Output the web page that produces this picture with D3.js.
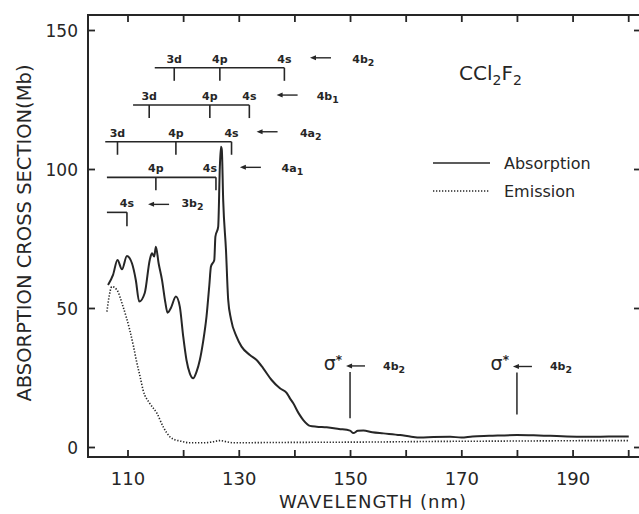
<!DOCTYPE html>
<html>
<head>
<meta charset="utf-8">
<script src="https://cdn.jsdelivr.net/npm/d3@7"></script>
<style>
body { margin: 0; background: #fff; }
svg text { font-family: "DejaVu Sans", sans-serif; fill: #262626; }
</style>
</head>
<body>
<div id="vis"></div>
<script>
// absorption cross section (nm / Mb)
var absWave = [106.5,107.4,108.2,109.0,109.9,110.8,111.5,112.1,113.1,114.0,114.4,114.8,115.1,115.6,116.2,116.8,117.2,117.8,118.7,119.4,120.0,120.6,121.2,121.8,122.4,123.0,123.6,124.2,124.7,125.0,125.6,125.8,126.3,126.6,126.8,126.95,127.2,127.7,128.1,128.6,129.6,130.5,132.0,133.2,134.4,135.9,137.4,138.6,139.2,139.8,140.8,141.6,142.8,144.0,145.8,148.0,150.0,150.6,151.4,152.4,154.0,156.0,159.0,161.0,162.6,165.0,168.0,170.0,172.0,175.0,180.0,183.0,186.0,189.0,192.0,195.0,198.0,200.1];
var absValue = [58.3,61.9,67.3,63.9,68.7,66.1,60.0,52.3,55.4,67.3,69.7,68.5,72.0,66.0,60.1,52.0,48.3,50.0,54.1,50.5,40.0,31.3,26.5,24.7,27.0,31.3,38.0,46.9,58.0,64.9,67.3,75.7,79.2,100.8,108.0,107.0,88.8,70.9,52.9,46.0,39.7,36.1,33.1,31.3,28.3,24.1,21.1,19.5,17.5,15.7,12.0,9.7,7.6,7.3,7.1,6.5,5.9,5.0,5.8,5.9,5.3,4.9,4.3,3.7,3.4,3.6,3.7,3.4,3.8,4.0,4.3,4.2,4.0,3.8,3.7,3.7,3.8,3.8];

// emission (dotted)
var emiWave = [106.3,106.6,107.2,108.1,109.2,110.4,111.1,111.7,112.3,112.8,114.0,115.3,116.4,117.6,118.5,119.4,121.2,123.6,125.2,126.6,128.0,129.0,135.0,145.0,155.0,165.0,175.0,185.0,195.0,200.0];
var emiValue = [48.7,53.0,57.7,56.5,50.5,42.1,36.0,30.1,25.0,20.5,15.7,12.1,7.3,3.7,2.6,2.2,1.5,1.5,1.8,2.3,1.8,1.5,1.6,1.7,1.8,2.0,2.1,2.2,2.3,2.3];

var xTicks = [110,120,130,140,150,160,170,180,190,200];
var xTickLabels = [110,130,150,170,190];
var yTicks = [0,50,100,150];

// Rydberg series assignments (ionized orbital, level, start of bar, members)
var seriesOrbital = ["4b2","4b1","4a2","4a1","3b2"];
var seriesLevel = [136.4,123.0,109.8,97.0,84.4];
var seriesStart = [114.9,111.0,106.0,106.3,106.3];
var seriesMembers = [
	[["3d",118.4],["4p",126.6],["4s",138.2]],
	[["3d",113.9],["4p",124.8],["4s",131.9]],
	[["3d",108.2],["4p",118.7],["4s",128.7]],
	[["4p",115.1],["4s",125.9]],
	[["4s",109.9]]
];
var seriesArrow = [142.8,136.8,133.2,130.2,113.7];
var seriesTag = [150.4,144.0,141.0,137.7,119.7];

// sigma* bands
var sigmaWave = [150,180];
var sigmaTop = [27.0,26.8];
var sigmaBottom = [10.3,11.7];

var W = 639, H = 514;
var margin = {top: 15, left: 88, bottom: 57, right: -2};

var svg = d3.select("#vis").append("svg")
	.attr("width", W)
	.attr("height", H);

var x = d3.scaleLinear().domain([102.9, 202.3]).range([margin.left, W - margin.right]);
var y = d3.scaleLinear().domain([-3.6, 155.4]).range([H - margin.bottom, margin.top]);

var ink = "#262626";

// frame
svg.append("rect")
	.attr("x", margin.left)
	.attr("y", margin.top)
	.attr("width", W - margin.right - margin.left)
	.attr("height", H - margin.bottom - margin.top)
	.attr("fill", "none")
	.attr("stroke", ink)
	.attr("stroke-width", 2);

// axes, ticks pointing in
svg.append("g")
	.attr("transform", "translate(0," + (H - margin.bottom) + ")")
	.call(d3.axisBottom(x).tickValues(xTicks).tickSize(-7).tickPadding(15)
		.tickFormat(d => xTickLabels.indexOf(d) >= 0 ? d : ""));
svg.append("g")
	.attr("transform", "translate(0," + margin.top + ")")
	.call(d3.axisTop(x).tickValues(xTicks).tickSize(-7).tickFormat(""));
var left = svg.append("g")
	.attr("transform", "translate(" + margin.left + ",0)")
	.call(d3.axisLeft(y).tickValues(yTicks).tickSize(-7).tickPadding(10));
svg.append("g")
	.attr("transform", "translate(" + (W - margin.right) + ",0)")
	.call(d3.axisRight(y).tickValues(yTicks).tickSize(-7).tickFormat(""));

svg.selectAll(".domain").remove();
svg.selectAll(".tick line").attr("stroke", ink).attr("stroke-width", 1.8);
svg.selectAll(".tick text").style("font-size", "18px").attr("fill", ink);
left.selectAll(".tick text").style("font-size", "17px").attr("dy", "0.4em");

// axis titles
svg.append("text")
	.attr("transform", "translate(31,233) rotate(-90)")
	.attr("text-anchor", "middle")
	.style("font-size", "19.5px")
	.text("ABSORPTION CROSS SECTION(Mb)");

svg.append("text")
	.attr("x", 373)
	.attr("y", 508)
	.attr("text-anchor", "middle")
	.style("font-size", "18px")
	.style("letter-spacing", "1px")
	.text("WAVELENGTH (nm)");

// spectra
var absData = absWave.map((d, i) => [d, absValue[i]]);
var emiData = emiWave.map((d, i) => [d, emiValue[i]]);
var line = d3.line().x(d => x(d[0])).y(d => y(d[1])).curve(d3.curveMonotoneX);

svg.append("path")
	.datum(emiData)
	.attr("d", line)
	.attr("fill", "none")
	.attr("stroke", ink)
	.attr("stroke-width", 1.6)
	.attr("stroke-dasharray", "1.3,1.7");

svg.append("path")
	.datum(absData)
	.attr("d", line)
	.attr("fill", "none")
	.attr("stroke", ink)
	.attr("stroke-width", 2)
	.attr("stroke-linejoin", "round");

// orbital label like 4b2 -> 4b with subscript 2
function orbital(g, px, py, name, size) {
	var t = g.append("text")
		.attr("x", px)
		.attr("y", py)
		.style("font-size", size + "px")
		.style("font-weight", "bold");
	t.append("tspan").text(name.slice(0, 2));
	t.append("tspan").attr("dy", 3).style("font-size", (size * 0.85) + "px").text(name.slice(2));
}

function arrow(g, x1, x2, py) {
	g.append("line")
		.attr("x1", x1 + 3).attr("x2", x2)
		.attr("y1", py).attr("y2", py)
		.attr("stroke", ink).attr("stroke-width", 1.4);
	g.append("path")
		.attr("d", "M" + x1 + "," + py + "L" + (x1 + 6) + "," + (py - 2.5) + "L" + (x1 + 6) + "," + (py + 2.5) + "Z")
		.attr("fill", ink);
}

var notes = svg.append("g");

seriesOrbital.forEach(function(name, i) {
	var ly = y(seriesLevel[i]);
	var members = seriesMembers[i];
	var last = members[members.length - 1][1];
	var drop = i == 4 ? 14 : 13;

	notes.append("line")
		.attr("x1", x(seriesStart[i])).attr("x2", x(last))
		.attr("y1", ly).attr("y2", ly)
		.attr("stroke", ink).attr("stroke-width", 1.6);

	members.forEach(function(m, j) {
		// 4s of the 4a1 series sits left of its tick, clear of the big peak
		var shifted = i == 3 && j == members.length - 1;
		notes.append("line")
			.attr("x1", x(m[1])).attr("x2", x(m[1]))
			.attr("y1", ly).attr("y2", ly + drop)
			.attr("stroke", ink).attr("stroke-width", 1.6);
		notes.append("text")
			.attr("x", shifted ? x(m[1]) + 1 : x(m[1]))
			.attr("y", ly - 5)
			.attr("text-anchor", shifted ? "end" : "middle")
			.style("font-size", "11px")
			.style("font-weight", "bold")
			.text(m[0]);
	});

	var ax = x(seriesArrow[i]);
	arrow(notes, ax, ax + 21, ly - (i == 4 ? 8 : 10));
	orbital(notes, x(seriesTag[i]), ly - 5, name, 11);
});

sigmaWave.forEach(function(w, i) {
	var px = x(w), top = y(sigmaTop[i]);
	notes.append("line")
		.attr("x1", px).attr("x2", px)
		.attr("y1", top).attr("y2", y(sigmaBottom[i]))
		.attr("stroke", ink).attr("stroke-width", 1.5);
	var s = notes.append("text")
		.attr("x", px - 8)
		.attr("y", top - 2)
		.attr("text-anchor", "end")
		.style("font-size", "19px");
	s.append("tspan").text("σ");
	s.append("tspan").attr("dy", -6).style("font-size", "12px").style("font-weight", "bold").text("*");
	arrow(notes, px - 4, px + 15, top - 6);
	orbital(notes, px + 33, top - 2, "4b2", 11);
});

// molecule name
var mol = svg.append("text")
	.attr("x", 459)
	.attr("y", 80)
	.style("font-size", "20px");
mol.append("tspan").text("CCl");
mol.append("tspan").attr("dy", 5).style("font-size", "14px").text("2");
mol.append("tspan").attr("dy", -5).text("F");
mol.append("tspan").attr("dy", 5).style("font-size", "14px").text("2");

// legend
var legend = svg.append("g");
legend.append("line")
	.attr("x1", 433).attr("x2", 490).attr("y1", 163).attr("y2", 163)
	.attr("stroke", ink).attr("stroke-width", 1.6);
legend.append("line")
	.attr("x1", 433).attr("x2", 490).attr("y1", 191).attr("y2", 191)
	.attr("stroke", ink).attr("stroke-width", 1.4).attr("stroke-dasharray", "1.3,1.7");
legend.append("text").attr("x", 504).attr("y", 168.5).style("font-size", "16px").text("Absorption");
legend.append("text").attr("x", 504).attr("y", 196.5).style("font-size", "16px").text("Emission");
</script>
</body>
</html>
